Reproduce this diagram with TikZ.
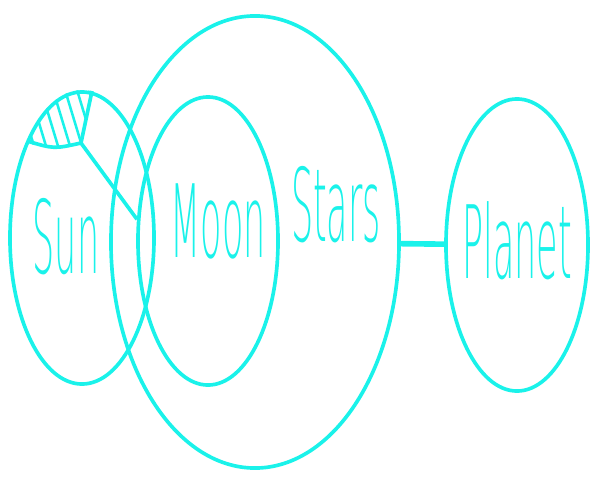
\documentclass[tikz,border=0pt]{standalone}
\usepackage{fontspec}
\setmainfont{DejaVu Sans ExtraLight}
\usetikzlibrary{shapes.geometric}

\definecolor{sky}{RGB}{26,242,234}
\newcommand{\narrow}[1]{\scalebox{0.345}[1]{#1}}

\begin{document}
\begin{tikzpicture}[x=0.025cm, y=-0.025cm,
  orb/.style={draw=sky, ellipse, line width=2.6pt, inner sep=0pt},
  word/.style={text=sky, inner sep=0pt, font=\fontsize{72}{72}\selectfont},
  link/.style={draw=sky, line width=2.6pt},
  hatch/.style={draw=sky, line width=1.8pt}
]
\useasboundingbox (0,0) rectangle (592,480);
% bodies
\node[orb, minimum width=3.6cm, minimum height=7.3cm] (sun) at (82,238) {};
\node[orb, minimum width=3.5cm, minimum height=7.2cm] (moon) at (208,241) {};
\node[orb, minimum width=7.2cm, minimum height=11.3cm] (stars) at (255,242) {};
\node[orb, minimum width=3.55cm, minimum height=7.3cm] (planet) at (517,245) {};
% names
\node[word] (suntxt) at (66,237) {\narrow{Sun}};
\node[word] (moontxt) at (218,221) {\narrow{Moon}};
\node[word] (starstxt) at (336,205) {\narrow{Stars}};
\node[word] (planettxt) at (517,241) {\narrow{Planet}};
% hatched cap of the sun
\begin{scope}
  \clip (82,238) ellipse [x radius=73, y radius=148];
  \clip (20,85) -- (95,85) -- (81,143) .. controls (54,149) .. (20,142) -- cycle;
  \foreach \h in {14,26,...,86}
    \draw[hatch] (\h,80) -- ++(20,66);
\end{scope}
\coordinate (tip) at (81,143);
\draw[link] (92,91) -- (tip) .. controls (54,149) .. (27,141);
% connectors
\draw[link] (tip) -- (moon.163);
\draw[link, line width=4pt] (stars) -- (planet);
\end{tikzpicture}
\end{document}
